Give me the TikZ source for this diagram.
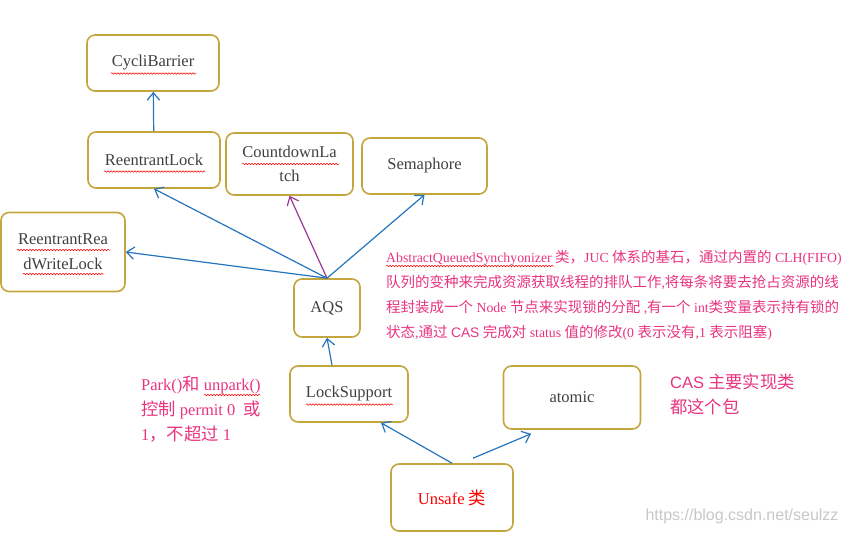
\documentclass[tikz,border=0pt]{standalone}
\usepackage{fontspec}
\setmainfont{Liberation Serif}
\setsansfont{Liberation Sans}
\newfontfamily\cjk[Scale=1.05]{Noto Sans CJK SC}
\newcommand\zh[1]{{\cjk #1}}
\usetikzlibrary{arrows.meta,decorations.pathmorphing,calc}
\definecolor{boxgold}{RGB}{196,166,62}
\definecolor{arrblue}{RGB}{38,116,188}
\definecolor{arrpurple}{RGB}{155,55,150}
\definecolor{notepink}{RGB}{232,52,128}
\definecolor{boxtext}{RGB}{64,64,64}
\tikzset{
  classbox/.style={draw=boxgold, line width=1.6pt, rounded corners=8pt, fill=white,
    text=boxtext, font=\fontsize{16.5}{24}\selectfont, align=center, inner sep=2pt},
  dep/.style={draw=arrblue, line width=1.2pt, -{Straight Barb[length=7.5pt,width=12.5pt]}},
  deppurple/.style={dep, draw=arrpurple},
  note/.style={text=notepink, align=left, anchor=north west, inner sep=0pt},
  wavy/.style={draw=red, line width=0.5pt, decorate,
    decoration={snake, amplitude=0.8pt, segment length=3pt}}
}
\begin{document}
\begin{tikzpicture}[x=1pt,y=-1pt]
\useasboundingbox (0,0) rectangle (846,533);
% boxes
\node[classbox, minimum width=132pt, minimum height=56pt] (cb) at (153,63) {\raisebox{-1.5pt}{CycliBarrier}};
\node[classbox, minimum width=132pt, minimum height=56pt] (rl) at (154,160) {\raisebox{-1.5pt}{ReentrantLock}};
\node[classbox, minimum width=127pt, minimum height=62pt] (cdl) at (289.5,164) {CountdownLa\\tch};
\node[classbox, minimum width=125pt, minimum height=56pt] (sem) at (424.5,166) {\raisebox{-1.5pt}{Semaphore}};
\node[classbox, minimum width=124pt, minimum height=79pt, font=\fontsize{16.5}{25}\selectfont] (rrwl) at (63,252) {ReentrantRea\\dWriteLock};
\node[classbox, minimum width=66pt, minimum height=58pt] (aqs) at (327,308) {\raisebox{-1.5pt}{AQS}};
\node[classbox, minimum width=118pt, minimum height=56pt] (ls) at (349,394) {\raisebox{-1.5pt}{LockSupport}};
\node[classbox, minimum width=137pt, minimum height=63pt] (atm) at (572,397.5) {\raisebox{-1.5pt}{atomic}};
\node[classbox, minimum width=122pt, minimum height=67pt, text=red] (uns) at (452,497.5) {Unsafe \zh{类}};
% connectors
\draw[dep] (rl) -- (cb);
\draw[dep] (aqs.north) -- (rl.south);
\draw[dep] (aqs.north) -- (rrwl.east);
\draw[deppurple] (aqs.north) -- (cdl.south);
\draw[dep] (aqs.north) -- (sem.south);
\draw[dep] ([xshift=-17pt]ls.north) -- (aqs.south);
\draw[dep] (uns.north) -- ([xshift=32pt]ls.south);
\draw[dep] ([xshift=21pt,yshift=5pt]uns.north) -- ([xshift=-41pt,yshift=-4pt]atm.south);
% notes
\node[note, font=\fontsize{13.8}{24.7}\selectfont] (aqsnote) at (386,250.5) {%
AbstractQueuedSynchyonizer \zh{类，}JUC \zh{体系的基石，通过内置的} CLH(FIFO)\\
\zh{队列的变种来完成资源获取线程的排队工作},\zh{将每条将要去抢占资源的线}\\
\zh{程封装成一个} Node \zh{节点来实现锁的分配} ,\zh{有一个} int\zh{类变量表示持有锁的}\\
\zh{状态},\zh{通过} {\sffamily CAS} \zh{完成对} status \zh{值的修改}(0 \zh{表示没有},1 \zh{表示阻塞})};
\node[note, font=\fontsize{16.5}{25}\selectfont] (parknote) at (141,376) {%
Park()\zh{和} unpark()\\
\zh{控制} permit 0 \ \zh{或}\\
1\zh{，不超过} 1};
\node[note, font=\fontsize{16.5}{25}\selectfont] (casnote) at (670,374) {%
{\sffamily CAS} \zh{主要实现类}\\
\zh{都这个包}};
\node[anchor=center, text=black!22, font=\sffamily\fontsize{16}{18}\selectfont, inner sep=0pt] (wm) at (742,516) {https://blog.csdn.net/seulzz};
% spell-check underlines
\draw[wavy] (111,73.5) -- (196,73.5);
\draw[wavy] (104,171.5) -- (205,171.5);
\draw[wavy] (242,164) -- (339,164);
\draw[wavy] (17,250) -- (110,250);
\draw[wavy] (23,274) -- (104,274);
\draw[wavy] (386,266) -- (554,266);
\draw[wavy] (306,404.5) -- (393,404.5);
\draw[wavy] (204,395) -- (260,395);
\end{tikzpicture}
\end{document}
